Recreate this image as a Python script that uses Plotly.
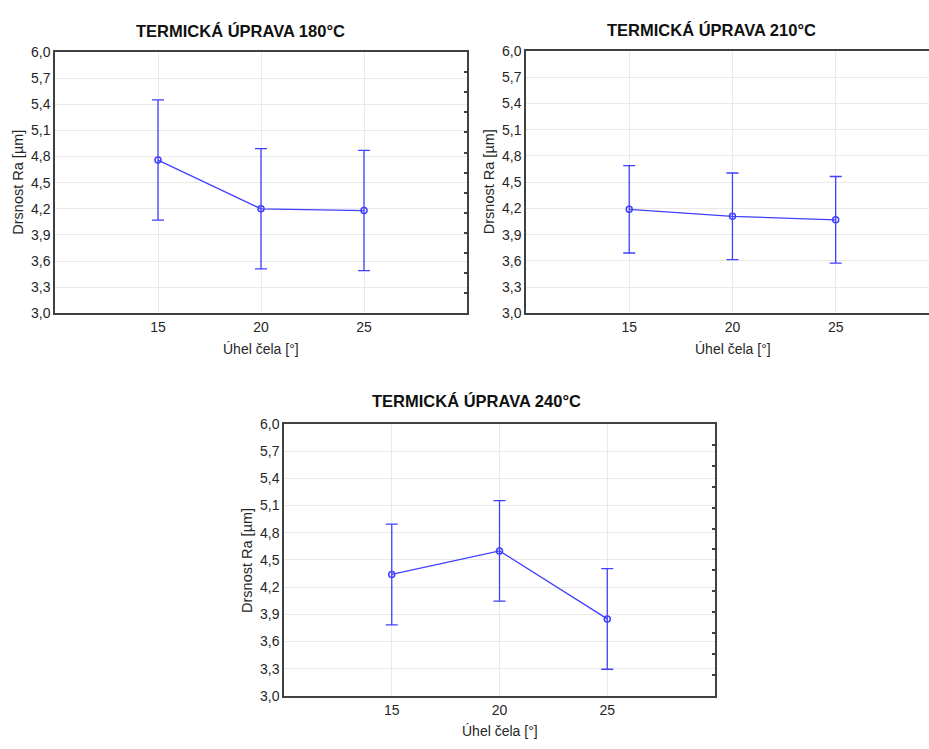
import plotly.graph_objects as go

W, H = 929, 749

# Rake angle (x) and surface roughness Ra means with their error half-widths
angles = [15, 20, 25]
titles = ["TERMICKÁ ÚPRAVA 180°C", "TERMICKÁ ÚPRAVA 210°C", "TERMICKÁ ÚPRAVA 240°C"]
ra_180 = [4.76, 4.20, 4.18]
err_180 = [0.69, 0.69, 0.69]
ra_210 = [4.19, 4.11, 4.07]
err_210 = [0.50, 0.495, 0.495]
ra_240 = [4.34, 4.60, 3.85]
err_240 = [0.555, 0.555, 0.555]
y_ticks = [3.0, 3.3, 3.6, 3.9, 4.2, 4.5, 4.8, 5.1, 5.4, 5.7, 6.0]
x_ticks = [15, 20, 25]

x_title = "Úhel čela [°]"
y_title = "Drsnost Ra [µm]"

BLUE = "#4040ff"
FRAME = "#404040"
GRID = "#e9e9e9"
FONT = "Liberation Sans, Arial, sans-serif"

# panel boxes in pixels: left, right, top, bottom, x-range upper, right frame?
panels = [
    dict(l=55, r=467, t=45, b=312, xmax=30.0, frame=True, xc=261, tx=240, ty=24),
    dict(l=526, r=929, t=44, b=312, xmax=29.52, frame=False, xc=733, tx=711, ty=22),
    dict(l=284, r=715, t=425, b=703, xmax=30.0, frame=True, xc=500, tx=477, ty=402),
]
series = [(ra_180, err_180), (ra_210, err_210), (ra_240, err_240)]

fig = go.Figure()
layout = dict(
    width=W, height=H,
    margin=dict(l=0, r=0, t=0, b=0),
    paper_bgcolor="white", plot_bgcolor="white",
    showlegend=False, separators=", ",
    font=dict(family=FONT, size=14, color="#262626"),
    annotations=[],
)

for i, (p, (vals, errs)) in enumerate(zip(panels, series)):
    n = i + 1
    xa = "x" if n == 1 else f"x{n}"
    ya = "y" if n == 1 else f"y{n}"
    dom_x = [p["l"] / W, p["r"] / W]
    dom_y = [1 - p["b"] / H, 1 - p["t"] / H]

    fig.add_trace(go.Scatter(
        x=angles, y=vals, xaxis=xa, yaxis=ya, mode="lines+markers",
        line=dict(color=BLUE, width=1.3),
        marker=dict(symbol="circle-open", size=6, color=BLUE, line=dict(width=1.5)),
        error_y=dict(type="data", array=errs, visible=True, color=BLUE,
                     thickness=1.3, width=6),
        cliponaxis=False,
    ))

    layout[f"xaxis{n if n > 1 else ''}"] = dict(
        domain=dom_x, anchor=ya, range=[10, p["xmax"]],
        tickvals=x_ticks, ticks="", showgrid=True, gridcolor=GRID, gridwidth=1,
        showline=True, linecolor=FRAME, linewidth=1.5, mirror=True,
        zeroline=False, tickfont=dict(size=14),
    )
    layout[f"yaxis{n if n > 1 else ''}"] = dict(
        domain=dom_y, anchor=xa, range=[3.0, 6.0],
        tickvals=y_ticks, tickformat=".1f", ticks="",
        showgrid=True, gridcolor=GRID, gridwidth=1,
        showline=True, linecolor=FRAME, linewidth=1.5, mirror=p["frame"],
        zeroline=False, tickfont=dict(size=14),
    )

    # short inward marks along the right frame
    if p["frame"]:
        k = 3 + n
        fig.add_trace(go.Scatter(x=[None], y=[None], xaxis=xa, yaxis=f"y{k}",
                                 hoverinfo="skip"))
        layout[f"yaxis{k}"] = dict(
            overlaying=ya, anchor=xa, side="right", range=[3.0, 6.0],
            tickvals=[3 + 3 * j / 13 for j in range(1, 13)],
            ticks="inside", ticklen=3, tickwidth=1.5, tickcolor=FRAME,
            showticklabels=False, showgrid=False, showline=False, zeroline=False,
        )

    cy = (p["t"] + p["b"]) / 2
    layout["annotations"] += [
        dict(text=f"<b>{titles[i]}</b>", x=p["tx"] / W, y=1 - p["ty"] / H,
             xref="paper", yref="paper", showarrow=False,
             xanchor="center", yanchor="middle", font=dict(size=16.5, color="#111111")),
        dict(text=x_title, x=p["xc"] / W, y=1 - (p["b"] + 36) / H,
             xref="paper", yref="paper", showarrow=False,
             xanchor="center", yanchor="middle", font=dict(size=14)),
        dict(text=y_title, x=(p["l"] - 37) / W, y=1 - cy / H,
             xref="paper", yref="paper", showarrow=False, textangle=-90,
             xanchor="center", yanchor="middle", font=dict(size=14.5)),
    ]

fig.update_layout(**layout)
fig.write_html("out.html")
